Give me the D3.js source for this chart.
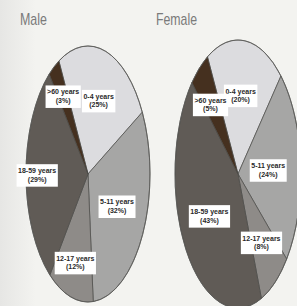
<!DOCTYPE html>
<html>
<head>
<meta charset="utf-8">
<script src="https://cdn.jsdelivr.net/npm/d3@7"></script>
<style>
  body { margin: 0; background: #f3f3f0; }
  svg { display: block; }
  .title { font-family: "Liberation Sans", Arial, sans-serif; fill: #7a7a7a; }
  .lbl { font-family: "Liberation Sans Narrow", "Liberation Sans", Arial, sans-serif; font-size: 7px; font-weight: bold; fill: #2a2a2a; }
</style>
</head>
<body>
<div id="chart"></div>
<script>
// age groups, same order (clockwise from the top) in both pies
const ageGroups = ["0-4 years", "5-11 years", "12-17 years", "18-59 years", ">60 years"];
const maleShare = [25, 32, 12, 29, 3];
const femaleShare = [20, 24, 8, 43, 5];
const sliceColors = ["#dcdcdf", "#a6a6a5", "#8e8b88", "#605b56", "#45301f"];

const W = 297, H = 306;
const svg = d3.select("#chart").append("svg")
    .attr("width", W).attr("height", H);

// light left-edge shading of the scanned page
const defs = svg.append("defs");
const bg = defs.append("linearGradient").attr("id", "bg");
bg.append("stop").attr("offset", "0%").attr("stop-color", "#e6e6e4");
bg.append("stop").attr("offset", "12%").attr("stop-color", "#f3f3f0");
svg.append("rect").attr("width", W).attr("height", H).attr("fill", "url(#bg)");

function PieChart(title, values, opts){
    const g = svg.append("g")
	.attr("transform", `translate(${opts.cx},${opts.cy}) scale(1,${opts.ry / opts.rx})`);
    const start = opts.start * Math.PI / 180;
    const pie = d3.pie().sort(null).startAngle(start).endAngle(start + 2 * Math.PI);
    const arcs = pie(values);
    const arc = d3.arc().innerRadius(0).outerRadius(opts.rx);

    g.selectAll("path").data(arcs).enter()
	.append("path")
	.attr("d", arc)
	.attr("fill", (d, i) => sliceColors[i])
	.attr("stroke", "#4a4a48")
	.attr("stroke-width", 0.7)
	.attr("vector-effect", "non-scaling-stroke");

    g.append("ellipse")
	.attr("rx", opts.rx).attr("ry", opts.rx)
	.attr("fill", "none").attr("stroke", "#5a5a58")
	.attr("stroke-width", 0.8)
	.attr("vector-effect", "non-scaling-stroke");

    // labels, placed along each slice's middle angle
    const labels = svg.append("g");
    arcs.forEach(function(d, i){
	const a = (d.startAngle + d.endAngle) / 2 + (opts.labelShift[i] || 0) * Math.PI / 180;
	const r = opts.labelR[i];
	const x = opts.cx + Math.sin(a) * opts.rx * r;
	const y = opts.cy - Math.cos(a) * opts.ry * r;
	const lg = labels.append("g").attr("transform", `translate(${x},${y})`);
	const box = lg.append("rect").attr("fill", "#ffffff");
	const t = lg.append("text").attr("class", "lbl").attr("text-anchor", "middle");
	t.append("tspan").attr("x", 0).attr("y", -1.5).text(ageGroups[i]);
	t.append("tspan").attr("x", 0).attr("y", 7).text(`(${values[i]}%)`);
	const bb = t.node().getBBox();
	box.attr("x", bb.x - 1.5).attr("y", bb.y - 3)
	    .attr("width", bb.width + 3).attr("height", bb.height + 6);
    });

    svg.append("text").attr("class", "title")
	.attr("x", opts.tx).attr("y", 25)
	.attr("font-size", 17)
	.attr("textLength", opts.tw).attr("lengthAdjust", "spacingAndGlyphs")
	.text(title);
}

new PieChart("Male", maleShare,
	     {cx: 88, cy: 174, rx: 62, ry: 128, start: -28, tx: 20, tw: 27,
	      labelR: [0.6, 0.53, 0.72, 0.82, 0.73], labelShift: [0, 0, 0, 0, 0]});
new PieChart("Female", femaleShare,
	     {cx: 238, cy: 174, rx: 63, ry: 134, start: -29, tx: 156, tw: 41,
	      labelR: [0.59, 0.48, 0.63, 0.55, 0.68], labelShift: [-3, 0, 0, 0, -2]});
</script>
</body>
</html>
